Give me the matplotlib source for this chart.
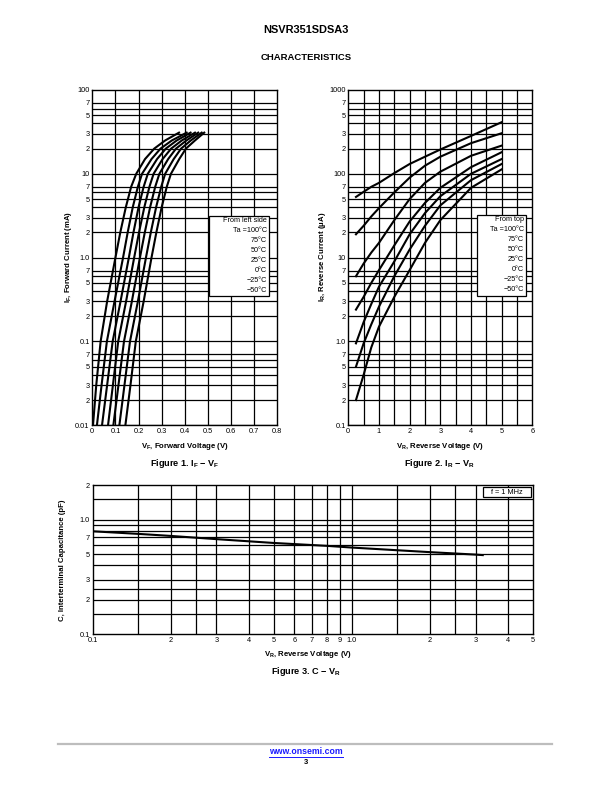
import numpy as np
import matplotlib.pyplot as plt
from matplotlib.patches import Rectangle
from matplotlib.lines import Line2D

plt.rcParams['font.family'] = ['Liberation Sans', 'DejaVu Sans']
plt.rcParams['mathtext.default'] = 'regular'

# Figure 1: forward current levels (mA) and forward voltage (V) per temperature
if_levels = [0.01, 0.03, 0.1, 0.3, 1, 2, 4, 7, 10, 15, 20, 25, 31]
vf_curves = {
    '100': [0.003, 0.017, 0.036, 0.064, 0.100, 0.121, 0.145, 0.168, 0.190, 0.228, 0.268, 0.315, 0.375],
    '75': [0.020, 0.040, 0.063, 0.096, 0.133, 0.153, 0.175, 0.197, 0.215, 0.256, 0.295, 0.344, 0.408],
    '50': [0.042, 0.064, 0.088, 0.122, 0.158, 0.178, 0.200, 0.222, 0.240, 0.280, 0.318, 0.365, 0.425],
    '25': [0.068, 0.089, 0.112, 0.146, 0.181, 0.202, 0.225, 0.247, 0.265, 0.304, 0.341, 0.387, 0.444],
    '0': [0.091, 0.113, 0.137, 0.171, 0.206, 0.227, 0.250, 0.272, 0.290, 0.328, 0.362, 0.407, 0.458],
    '-25': [0.117, 0.139, 0.163, 0.197, 0.232, 0.253, 0.276, 0.298, 0.315, 0.352, 0.384, 0.426, 0.473],
    '-50': [0.143, 0.165, 0.188, 0.222, 0.256, 0.277, 0.300, 0.322, 0.340, 0.376, 0.405, 0.444, 0.484],
}

# Figure 2: reverse voltage (V) and reverse current (uA) per temperature
vr_levels = [0.25, 0.5, 0.75, 1, 1.5, 2, 2.5, 3, 4, 5]
ir_curves = {
    '100': [53, 61, 70, 78, 102, 131, 160, 195, 283, 413],
    '75': [19, 24, 31, 39, 60, 90, 125, 160, 232, 305],
    '50': [6, 8.5, 11.5, 15, 28, 50, 78, 106, 164, 217],
    '25': [2.4, 3.4, 5, 7.1, 14, 27, 45, 68, 120, 181],
    '0': [0.95, 1.7, 2.8, 4.5, 9, 19, 34, 54, 100, 150],
    '-25': [0.5, 0.95, 1.6, 2.6, 6, 12.5, 24, 42, 84, 131],
    '-50': [0.2, 0.4, 0.85, 1.5, 3.4, 7.1, 15, 28, 68, 113],
}

# Figure 3: capacitance vs reverse voltage
vr_cap = [0.1, 0.15, 0.2, 0.3, 0.5, 0.8, 1.0, 1.5, 2, 3, 3.2]
cap_pf = [0.79, 0.75, 0.72, 0.675, 0.625, 0.59, 0.57, 0.54, 0.52, 0.495, 0.49]

legend_lines = ['Ta =100°C', '75°C', '50°C', '25°C', '0°C', '\u221225°C', '\u221250°C']

# tick labels
log_ticks_1 = [0.01, 0.02, 0.03, 0.05, 0.07, 0.1, 0.2, 0.3, 0.5, 0.7, 1, 2, 3, 5, 7, 10, 20, 30, 50, 70, 100]
log_labels_1 = ['0.01', '2', '3', '5', '7', '0.1', '2', '3', '5', '7', '1.0', '2', '3', '5', '7',
                '10', '2', '3', '5', '7', '100']
log_ticks_2 = [0.1, 0.2, 0.3, 0.5, 0.7, 1, 2, 3, 5, 7, 10, 20, 30, 50, 70, 100, 200, 300, 500, 700, 1000]
log_labels_2 = ['0.1', '2', '3', '5', '7', '1.0', '2', '3', '5', '7', '10', '2', '3', '5', '7',
                '100', '2', '3', '5', '7', '1000']
vf_ticks = [0, 0.1, 0.2, 0.3, 0.4, 0.5, 0.6, 0.7, 0.8]
vf_labels = ['0', '0.1', '0.2', '0.3', '0.4', '0.5', '0.6', '0.7', '0.8']
vr_ticks = [0, 1, 2, 3, 4, 5, 6]
cap_xticks = [0.1, 0.2, 0.3, 0.4, 0.5, 0.6, 0.7, 0.8, 0.9, 1.0, 2, 3, 4, 5]
cap_xlabels = ['0.1', '2', '3', '4', '5', '6', '7', '8', '9', '1.0', '2', '3', '4', '5']
cap_yticks = [0.1, 0.2, 0.3, 0.5, 0.7, 1.0, 2]
cap_ylabels = ['0.1', '2', '3', '5', '7', '1.0', '2']
cap_xgrid = [0.15, 0.2, 0.25, 0.3, 0.4, 0.5, 0.6, 0.7, 0.8, 0.9, 1.0, 1.5, 2, 2.5, 3, 4]
cap_ygrid = [0.15, 0.2, 0.25, 0.3, 0.4, 0.5, 0.6, 0.7, 0.8, 0.9, 1.0, 1.5]

W, H = 612, 792
fig = plt.figure(figsize=(W / 100, H / 100), dpi=100)


def px_axes(x0, y0, x1, y1):
    return fig.add_axes([x0 / W, 1 - y1 / H, (x1 - x0) / W, (y1 - y0) / H])


def ftext(x, y, s, **kw):
    fig.text(x / W, 1 - y / H, s, **kw)


def style(ax):
    for sp in ax.spines.values():
        sp.set_linewidth(1.0)
    ax.tick_params(length=0, labelsize=5.3, pad=2)


def decade_grid(ax, lo_exp, hi_exp):
    for e in range(lo_exp, hi_exp):
        for k in [1, 2, 3, 4, 5, 6, 7]:
            ax.axhline(k * 10.0 ** e, color='black', lw=0.9, zorder=1)


lab_font = dict(fontsize=5.6, fontweight='bold')
cap_font = dict(fontsize=6.6, fontweight='bold')

# ---- Figure 1
ax1 = px_axes(92.3, 90, 277.3, 425.3)
ax1.set_yscale('log')
ax1.set_xlim(0, 0.8)
ax1.set_ylim(0.01, 100)
decade_grid(ax1, -2, 2)
for v in np.arange(0.1, 0.8, 0.1):
    ax1.axvline(v, color='black', lw=0.9, zorder=1)
for name, vf in vf_curves.items():
    ax1.plot(vf, if_levels, color='black', lw=1.5, zorder=3, solid_joinstyle='round')
ax1.set_xticks(vf_ticks)
ax1.set_xticklabels(vf_labels)
ax1.set_yticks(log_ticks_1)
ax1.set_yticklabels(log_labels_1)
ax1.minorticks_off()
style(ax1)
box_x0, box_x1 = 0.631, 0.955
ax1.add_patch(Rectangle((box_x0, 0.386), box_x1 - box_x0, 0.238, transform=ax1.transAxes,
                        facecolor='white', edgecolor='black', lw=0.9, zorder=4))
for i, s in enumerate(['From left side'] + legend_lines):
    ax1.text(0.945, 0.611 - i * 0.0297, s, transform=ax1.transAxes, ha='right', va='center',
             fontsize=5.2, zorder=5)

# ---- Figure 2
ax2 = px_axes(348.3, 90, 532.3, 425.3)
ax2.set_yscale('log')
ax2.set_xlim(0, 6)
ax2.set_ylim(0.1, 1000)
decade_grid(ax2, -1, 3)
for v in np.arange(0.5, 6, 0.5):
    ax2.axvline(v, color='black', lw=0.9, zorder=1)
for name, ir in ir_curves.items():
    ax2.plot(vr_levels, ir, color='black', lw=1.5, zorder=3, solid_joinstyle='round')
ax2.set_xticks(vr_ticks)
ax2.set_yticks(log_ticks_2)
ax2.set_yticklabels(log_labels_2)
ax2.minorticks_off()
style(ax2)
ax2.add_patch(Rectangle((0.699, 0.386), 0.267, 0.241, transform=ax2.transAxes,
                        facecolor='white', edgecolor='black', lw=0.9, zorder=4))
for i, s in enumerate(['From top'] + legend_lines):
    ax2.text(0.955, 0.614 - i * 0.0297, s, transform=ax2.transAxes, ha='right', va='center',
             fontsize=5.2, zorder=5)

# ---- Figure 3
ax3 = px_axes(92.7, 485, 533, 634.3)
ax3.set_xscale('log')
ax3.set_yscale('log')
ax3.set_xlim(0.1, 5)
ax3.set_ylim(0.1, 2)
for v in cap_xgrid:
    ax3.axvline(v, color='black', lw=0.9, zorder=1)
for c in cap_ygrid:
    ax3.axhline(c, color='black', lw=0.9, zorder=1)
ax3.plot(vr_cap, cap_pf, color='black', lw=1.5, zorder=3)
ax3.set_xticks(cap_xticks)
ax3.set_xticklabels(cap_xlabels)
ax3.set_yticks(cap_yticks)
ax3.set_yticklabels(cap_ylabels)
ax3.minorticks_off()
style(ax3)
ax3.add_patch(Rectangle((0.886, 0.92), 0.109, 0.067, transform=ax3.transAxes,
                        facecolor='white', edgecolor='black', lw=0.9, zorder=4))
ax3.text(0.9405, 0.953, 'f = 1 MHz', transform=ax3.transAxes, ha='center', va='center',
         fontsize=5.3, zorder=5)

# ---- texts
ftext(306, 30, 'NSVR351SDSA3', ha='center', va='center', fontsize=7.9, fontweight='bold')
ftext(306, 57, 'CHARACTERISTICS', ha='center', va='center', fontsize=6.8, fontweight='bold')

ftext(185, 446, 'V$_F$, Forward Voltage (V)', ha='center', va='center', **lab_font)
ftext(69, 257, 'I$_F$, Forward Current (mA)', ha='center', va='center', rotation=90, **lab_font)
ftext(185, 464, 'Figure 1. I$_F$ \u2212 V$_F$', ha='center', va='center', **cap_font)

ftext(440, 446, 'V$_R$, Reverse Voltage (V)', ha='center', va='center', **lab_font)
ftext(322, 257, 'I$_R$, Reverse Current (\u03bcA)', ha='center', va='center', rotation=90, **lab_font)
ftext(440, 464, 'Figure 2. I$_R$ \u2212 V$_R$', ha='center', va='center', **cap_font)

ftext(308, 654, 'V$_R$, Reverse Voltage (V)', ha='center', va='center', **lab_font)
ftext(63, 560, 'C, Interterminal Capacitance (pF)', ha='center', va='center', rotation=90, **lab_font)
ftext(306, 672, 'Figure 3. C \u2212 V$_R$', ha='center', va='center', **cap_font)

# footer
fig.add_artist(Line2D([58 / W, 552 / W], [1 - 744 / H, 1 - 744 / H], color='#bdbdbd', lw=1.6))
ftext(306, 752, 'www.onsemi.com', ha='center', va='center', fontsize=6.3, fontweight='bold',
      color='#1a1aff')
fig.add_artist(Line2D([269 / W, 343 / W], [1 - 756.5 / H, 1 - 756.5 / H], color='#1a1aff', lw=0.7))
ftext(306, 762, '3', ha='center', va='center', fontsize=5.5, fontweight='bold')

fig.savefig('out.png', dpi=100)
